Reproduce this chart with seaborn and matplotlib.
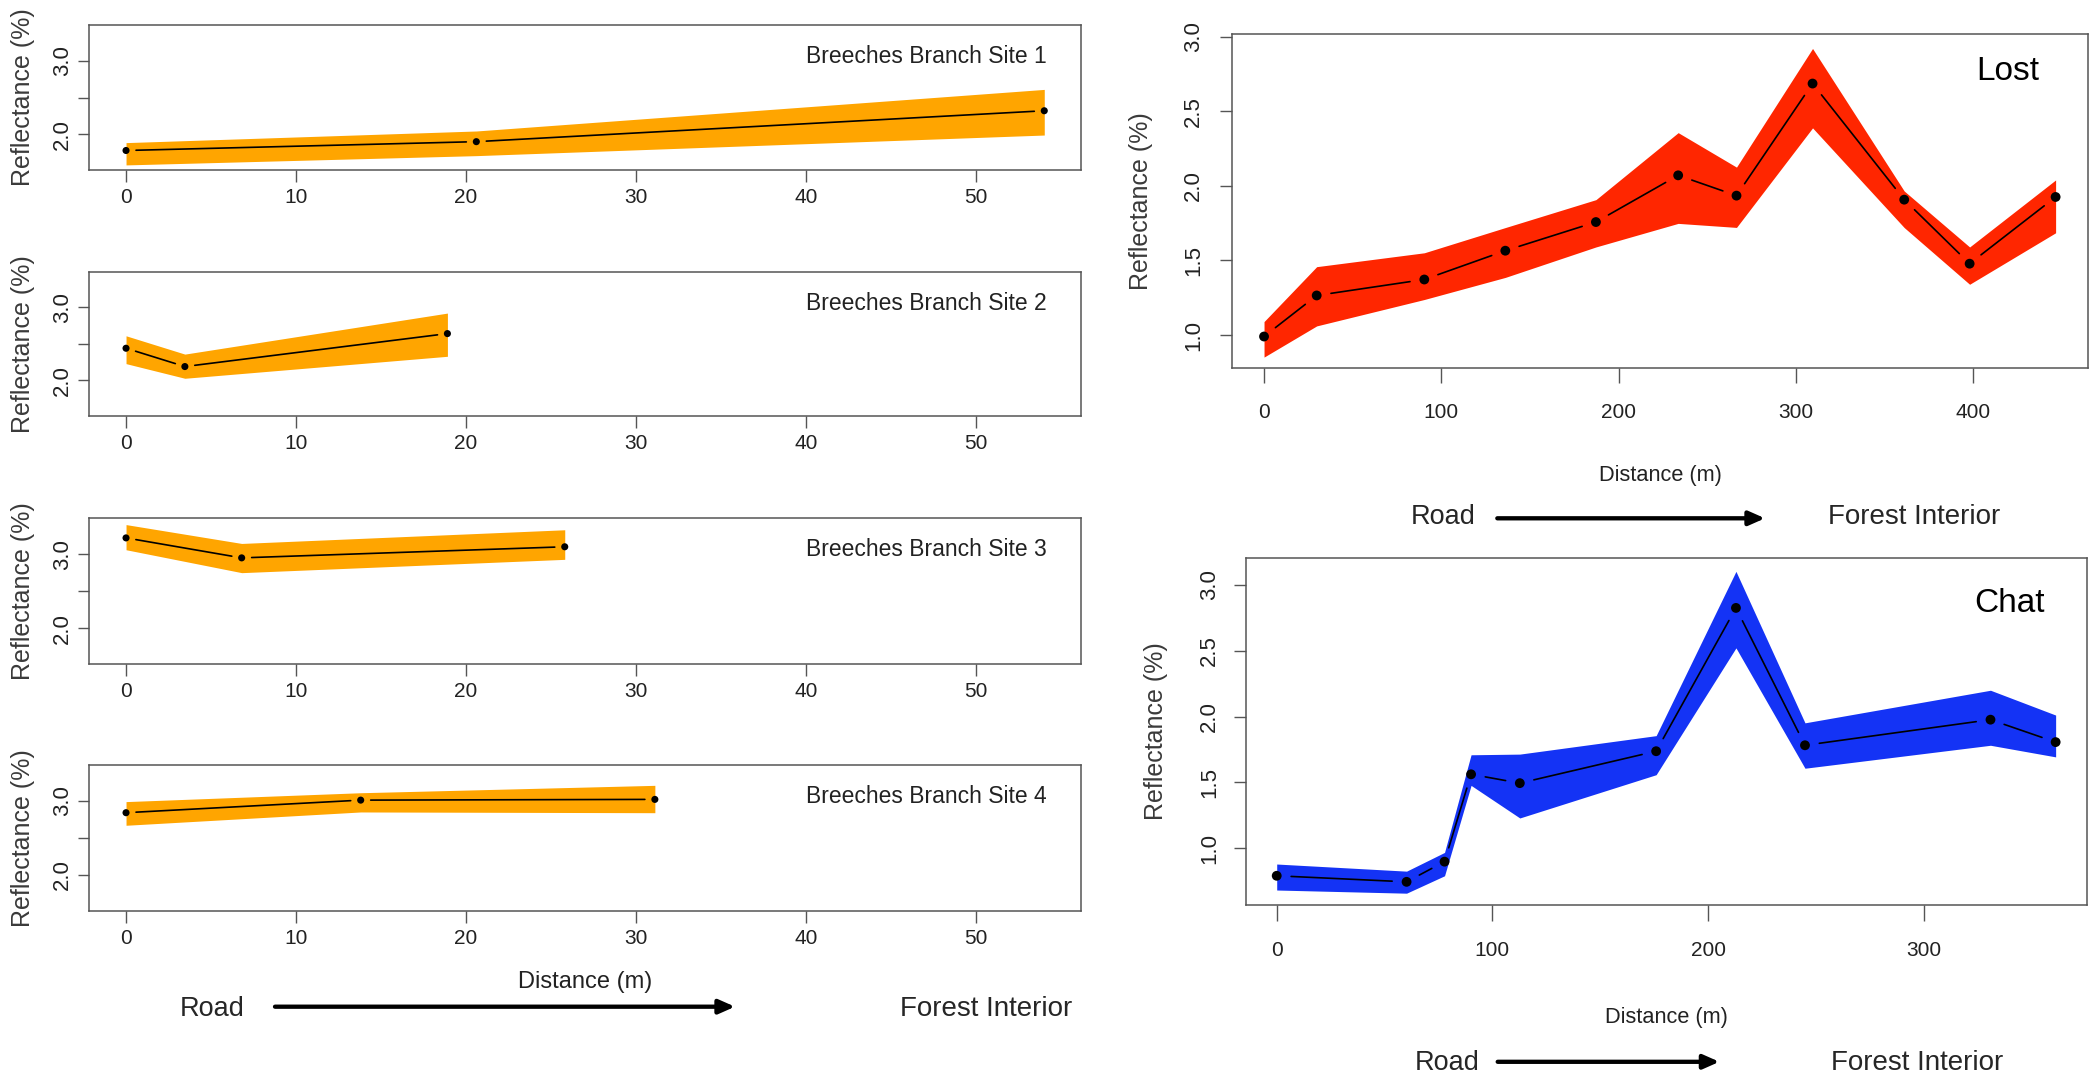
import matplotlib
matplotlib.use("Agg")
import matplotlib.pyplot as plt
import seaborn as sns
from matplotlib.patches import FancyArrowPatch

# ---------------- data ----------------
site1_dist = [0.0, 20.6, 54.0]
site1_refl = [1.78, 1.90, 2.32]
site1_upper = [1.887, 2.045, 2.61]
site1_lower = [1.584, 1.71, 1.99]

site2_dist = [0.0, 3.46, 18.9]
site2_refl = [2.44, 2.19, 2.64]
site2_upper = [2.61, 2.36, 2.92]
site2_lower = [2.23, 2.03, 2.33]

site3_dist = [0.0, 6.8, 25.8]
site3_refl = [3.22, 2.95, 3.10]
site3_upper = [3.40, 3.145, 3.33]
site3_lower = [3.06, 2.75, 2.93]

site4_dist = [0.0, 13.8, 31.1]
site4_refl = [2.84, 3.01, 3.02]
site4_upper = [2.99, 3.11, 3.21]
site4_lower = [2.67, 2.85, 2.84]

site_titles = ["Breeches Branch Site 1", "Breeches Branch Site 2",
               "Breeches Branch Site 3", "Breeches Branch Site 4"]

lost_dist = [0, 29.7, 90.4, 136.1, 187.2, 233.6, 266.5, 309.4, 361.1, 398.0, 446.5]
lost_refl = [0.99, 1.265, 1.372, 1.565, 1.757, 2.07, 1.934, 2.685, 1.907, 1.478, 1.925]
lost_upper = [1.09, 1.458, 1.551, 1.72, 1.907, 2.356, 2.125, 2.92, 1.965, 1.59, 2.039]
lost_lower = [0.852, 1.061, 1.238, 1.386, 1.59, 1.748, 1.721, 2.388, 1.72, 1.34, 1.685]

chat_dist = [0, 60.2, 77.8, 90.1, 112.7, 175.9, 212.9, 244.9, 330.9, 361.1]
chat_refl = [0.793, 0.747, 0.90, 1.562, 1.495, 1.737, 2.823, 1.782, 1.976, 1.806]
chat_upper = [0.882, 0.828, 0.97, 1.71, 1.715, 1.855, 3.10, 1.952, 2.199, 2.011]
chat_lower = [0.685, 0.661, 0.793, 1.478, 1.231, 1.559, 2.52, 1.608, 1.782, 1.694]

left_xticks = [0, 10, 20, 30, 40, 50]
left_yticks = [2.0, 2.5, 3.0]
left_yticklabels = ["2.0", "", "3.0"]
lost_xticks = [0, 100, 200, 300, 400]
chat_xticks = [0, 100, 200, 300]
right_yticks = [1.0, 1.5, 2.0, 2.5, 3.0]
right_yticklabels = ["1.0", "1.5", "2.0", "2.5", "3.0"]

ylabel_text = "Reflectance (%)"
xlabel_text = "Distance (m)"

ORANGE = "#FFA500"
RED = "#FF2600"
BLUE = "#1433F5"
SPINE = "#555555"
TICKTXT = "#222222"
LABTXT = "#3a3a3a"

# ---------------- style ----------------
sns.set_style("white")
plt.rcParams["font.family"] = ["Liberation Sans", "DejaVu Sans"]

W, H = 2093, 1076
fig = plt.figure(figsize=(W / 100, H / 100), dpi=100)
fig.patch.set_facecolor("white")


def rect(l, t, r, b):
    return [l / W, 1 - b / H, (r - l) / W, (b - t) / H]


def fx(x):
    return x / W


def fy(y):
    return 1 - y / H


def style_axes(ax, xlen, ylen, xpad, ypad, xsize, ysize):
    for s in ax.spines.values():
        s.set_visible(True)
        s.set_color(SPINE)
        s.set_linewidth(1.1)
    ax.tick_params(axis="x", bottom=True, direction="out", length=xlen, width=1.0,
                   color=SPINE, pad=xpad, labelsize=xsize, labelcolor=TICKTXT)
    ax.tick_params(axis="y", left=True, direction="out", length=ylen, width=1.0,
                   color=SPINE, pad=ypad, labelsize=ysize, labelcolor=TICKTXT,
                   labelrotation=90)
    for t in ax.yaxis.get_major_ticks():
        t.label1.set_verticalalignment("center")
    ax.set_xlabel("")
    ax.set_ylabel("")
    ax.grid(False)


def draw_series(ax, dist, refl, lower, upper, color, dot_s, gap):
    ax.fill_between(dist, lower, upper, color=color, lw=0, zorder=1)
    for i in range(len(dist) - 1):
        ax.annotate("", xy=(dist[i + 1], refl[i + 1]), xytext=(dist[i], refl[i]),
                    arrowprops=dict(arrowstyle="-", shrinkA=gap, shrinkB=gap,
                                    lw=1.2, color="black"), zorder=2)
    sns.scatterplot(x=dist, y=refl, ax=ax, color="black", s=dot_s,
                    edgecolor="none", zorder=3, legend=False)


def arrow(x0, x1, y):
    fig.add_artist(FancyArrowPatch((fx(x0), fy(y)), (fx(x1), fy(y)),
                                   transform=fig.transFigure,
                                   arrowstyle="-|>,head_length=0.95,head_width=0.42",
                                   mutation_scale=10, lw=3.1, color="black",
                                   shrinkA=0, shrinkB=0))


# ---------------- left column: Breeches Branch sites ----------------
left_series = [
    (site1_dist, site1_refl, site1_lower, site1_upper),
    (site2_dist, site2_refl, site2_lower, site2_upper),
    (site3_dist, site3_refl, site3_lower, site3_upper),
    (site4_dist, site4_refl, site4_lower, site4_upper),
]
left_boxes = [(25, 170), (271.7, 416), (518.3, 664), (765, 910.7)]
L_LEFT, L_RIGHT = 89.3, 1081

for (dist, refl, lo, up), (top, bot), title in zip(left_series, left_boxes, site_titles):
    ax = fig.add_axes(rect(L_LEFT, top, L_RIGHT, bot))
    draw_series(ax, dist, refl, lo, up, ORANGE, 26, 7.2)
    ax.set_xlim(-2.16, 56.16)
    ax.set_ylim(1.515, 3.485)
    ax.set_xticks(left_xticks)
    ax.set_xticklabels([str(v) for v in left_xticks])
    ax.set_yticks(left_yticks)
    ax.set_yticklabels(left_yticklabels)
    style_axes(ax, 8.4, 7.7, 4.6, 4.3, 15, 16)
    ax.text(0.9657, 1 - 38 / (bot - top), title, transform=ax.transAxes,
            ha="right", va="baseline", fontsize=16.5, color="#222222")
    fig.text(fx(23), fy((top + bot) / 2), ylabel_text, rotation=90,
             ha="center", va="center", fontsize=18, color=LABTXT)

fig.text(fx(585), fy(981.7), xlabel_text, ha="center", va="center",
         fontsize=17, color="#222222")
fig.text(fx(211.7), fy(1016), "Road", ha="center", va="baseline", fontsize=19.5)
fig.text(fx(986.3), fy(1016), "Forest Interior", ha="center", va="baseline", fontsize=20)
arrow(275, 735, 1006.7)

# ---------------- right column: Lost ----------------
ax = fig.add_axes(rect(1232.3, 34.3, 2087.7, 368.3))
draw_series(ax, lost_dist, lost_refl, lost_lower, lost_upper, RED, 50, 10.4)
ax.set_xlim(-17.9, 464.6)
ax.set_ylim(0.777, 3.015)
ax.set_xticks(lost_xticks)
ax.set_xticklabels([str(v) for v in lost_xticks])
ax.set_yticks(right_yticks)
ax.set_yticklabels(right_yticklabels)
style_axes(ax, 10.8, 8.9, 14.3, 11.3, 15, 16)
ax.text(0.943, 1 - 45.7 / 334, "Lost", transform=ax.transAxes,
        ha="right", va="baseline", fontsize=24, color="black")
fig.text(fx(1141), fy((34.3 + 368.3) / 2), ylabel_text, rotation=90,
         ha="center", va="center", fontsize=18, color=LABTXT)
fig.text(fx(1660.5), fy(475.5), xlabel_text, ha="center", va="center",
         fontsize=15.7, color="#222222")
fig.text(fx(1443.3), fy(524.3), "Road", ha="center", va="baseline", fontsize=19.5)
fig.text(fx(1913.8), fy(524.3), "Forest Interior", ha="center", va="baseline", fontsize=20)
arrow(1497.3, 1765, 518.3)

# ---------------- right column: Chat ----------------
ax = fig.add_axes(rect(1246.3, 558.3, 2086.7, 904.8))
draw_series(ax, chat_dist, chat_refl, chat_lower, chat_upper, BLUE, 50, 10.4)
ax.set_xlim(-14.1, 375.5)
ax.set_ylim(0.573, 3.199)
ax.set_xticks(chat_xticks)
ax.set_xticklabels([str(v) for v in chat_xticks])
ax.set_yticks(right_yticks)
ax.set_yticklabels(right_yticklabels)
style_axes(ax, 11.5, 8.9, 14.6, 9.9, 15, 16)
ax.text(0.950, 1 - 53.2 / 346.5, "Chat", transform=ax.transAxes,
        ha="right", va="baseline", fontsize=24, color="black")
fig.text(fx(1155.5), fy((558.3 + 904.8) / 2), ylabel_text, rotation=90,
         ha="center", va="center", fontsize=18, color=LABTXT)
fig.text(fx(1666.8), fy(1017.5), xlabel_text, ha="center", va="center",
         fontsize=15.7, color="#222222")
fig.text(fx(1447), fy(1070.5), "Road", ha="center", va="baseline", fontsize=19.5)
fig.text(fx(1917), fy(1070.5), "Forest Interior", ha="center", va="baseline", fontsize=20)
arrow(1497.7, 1719.4, 1061.8)

fig.savefig("out.png", dpi=100, facecolor="white")
